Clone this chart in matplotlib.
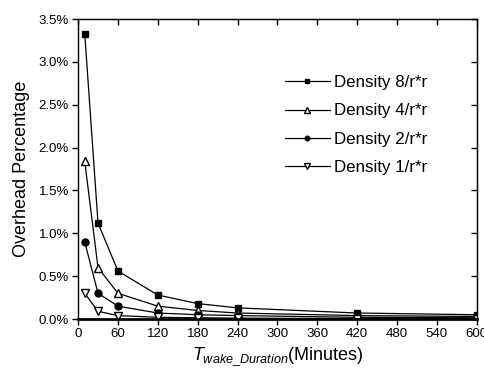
import matplotlib
matplotlib.use("Agg")
import matplotlib.pyplot as plt
from matplotlib.ticker import FuncFormatter, MultipleLocator

plt.rcParams['font.family'] = ['Liberation Sans', 'DejaVu Sans']
plt.rcParams['mathtext.fontset'] = 'custom'
plt.rcParams['mathtext.it'] = 'Liberation Sans:italic'
plt.rcParams['mathtext.rm'] = 'Liberation Sans'

# data (percent)
minutes = [10, 30, 60, 120, 180, 240, 420, 600]
dens8 = [3.33, 1.12, 0.56, 0.28, 0.18, 0.13, 0.07, 0.05]
dens4 = [1.84, 0.60, 0.30, 0.15, 0.10, 0.07, 0.04, 0.03]
dens2 = [0.90, 0.30, 0.15, 0.07, 0.05, 0.04, 0.02, 0.015]
dens1 = [0.30, 0.09, 0.04, 0.02, 0.015, 0.01, 0.005, 0.004]
labels = ['Density 8/r*r', 'Density 4/r*r', 'Density 2/r*r', 'Density 1/r*r']

fig = plt.figure(figsize=(4.85, 3.74), dpi=100)
ax = fig.add_axes([0.161, 0.147, 0.822, 0.802])

ax.plot(minutes, dens8, color='black', lw=0.9, marker='s', ms=5,
        mfc='black', mec='black', label=labels[0])
ax.plot(minutes, dens4, color='black', lw=0.9, marker='^', ms=6,
        mfc='white', mec='black', label=labels[1])
ax.plot(minutes, dens2, color='black', lw=0.9, marker='o', ms=5,
        mfc='black', mec='black', label=labels[2])
ax.plot(minutes, dens1, color='black', lw=0.9, marker='v', ms=6,
        mfc='white', mec='black', label=labels[3])

ax.set_xlim(0, 600)
ax.set_ylim(0, 3.5)
ax.xaxis.set_major_locator(MultipleLocator(60))
ax.yaxis.set_major_locator(MultipleLocator(0.5))
ax.yaxis.set_major_formatter(FuncFormatter(lambda v, p: '%.1f%%' % v))
ax.tick_params(axis='both', which='major', labelsize=9.5, direction='out',
               length=4, width=1, pad=2.5)

# inward ticks on top and right
ax2 = ax.secondary_xaxis('top')
ax2.xaxis.set_major_locator(MultipleLocator(60))
ax2.tick_params(direction='in', length=4, width=1, labeltop=False)
ax3 = ax.secondary_yaxis('right')
ax3.yaxis.set_major_locator(MultipleLocator(0.5))
ax3.tick_params(direction='in', length=4, width=1, labelright=False)

for s in ax.spines.values():
    s.set_linewidth(1)
ax.spines['bottom'].set_linewidth(2)

ax.set_ylabel('Overhead Percentage', fontsize=13, labelpad=6)
ax.set_xlabel(r'$T_{wake\_Duration}$(Minutes)', fontsize=13, labelpad=4)

ax.legend(loc='upper left', bbox_to_anchor=(0.48, 0.863), frameon=False,
          fontsize=12.2, handlelength=2.65, labelspacing=0.77, handletextpad=0.25,
          markerscale=0.65)

fig.savefig('out.png', dpi=100)
